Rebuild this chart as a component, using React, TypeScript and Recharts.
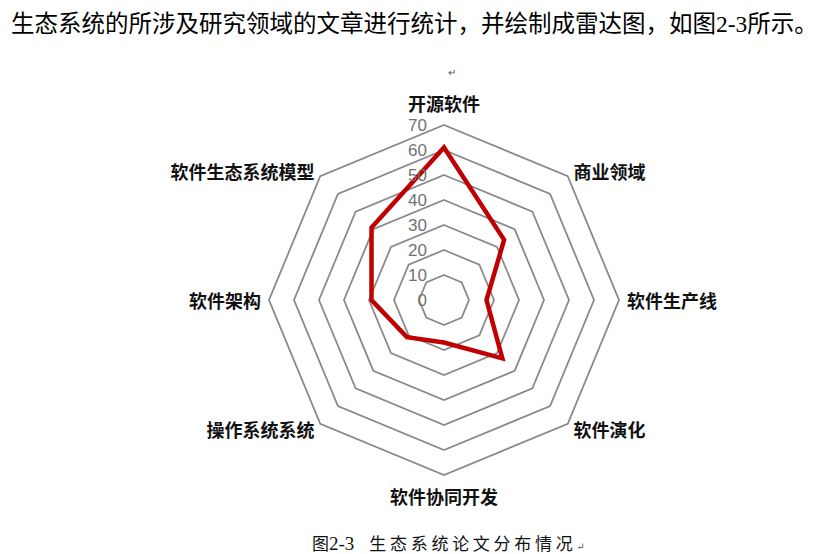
import React from "react";
import {
  RadarChart,
  Radar,
  PolarGrid,
  PolarAngleAxis,
  PolarRadiusAxis,
} from "recharts";

const CATEGORIES = [
  "开源软件",
  "商业领域",
  "软件生产线",
  "软件演化",
  "软件协同开发",
  "操作系统系统",
  "软件架构",
  "软件生态系统模型",
];
const COUNTS = [61, 34, 17, 33, 17, 21, 29, 41];
const RADIUS_TICKS = [0, 10, 20, 30, 40, 50, 60, 70];

const INTRO = "生态系统的所涉及研究领域的文章进行统计，并绘制成雷达图，如图2-3所示。";
const CAPTION_NUM = "2-3";
const CAPTION_TEXT = "生态系统论文分布情况";

const CX = 444;
const CY = 300;
const OUTER = 175;
const GRID_COLOR = "#8a8a8a";
const LINE_COLOR = "#c00000";
const CJK = '"Noto Sans CJK SC", "Noto Sans", sans-serif';
const SERIF = '"Liberation Serif", "Times New Roman", "DejaVu Serif", "Noto Sans CJK SC", serif';

function AngleTick(props: any) {
  const { payload } = props;
  const a = (payload.coordinate * Math.PI) / 180;
  const r = OUTER + 8;
  const cos = Math.cos(a);
  const sin = Math.sin(a);
  const x = CX + r * cos;
  let y = CY - r * sin;
  let anchor: "start" | "end" | "middle" = "middle";
  if (cos > 1e-5) anchor = "start";
  else if (cos < -1e-5) anchor = "end";
  if (Math.abs(cos) < 1e-5) y += sin > 0 ? -14 : 13;
  return (
    <text
      x={x}
      y={y}
      textAnchor={anchor}
      dominantBaseline="central"
      fontFamily={CJK}
      fontWeight={700}
      fontSize={18}
      fill="#111"
    >
      {payload.value}
    </text>
  );
}

function RadiusTick(props: any) {
  const { x, y, payload } = props;
  return (
    <text
      x={x - 17}
      y={y}
      textAnchor="end"
      dominantBaseline="central"
      fontFamily='"Liberation Sans", Arial, sans-serif'
      fontSize={17}
      fill="#727272"
    >
      {payload.value}
    </text>
  );
}

export default function App() {
  const data = CATEGORIES.map((name, i) => ({ name, value: COUNTS[i] }));
  const max = RADIUS_TICKS[RADIUS_TICKS.length - 1];
  const gridRadii = RADIUS_TICKS.filter((t) => t > 0).map((t) => (t / max) * OUTER);

  return (
    <div
      style={{
        position: "absolute",
        left: 0,
        top: 0,
        width: 825,
        height: 554,
        background: "#fff",
        overflow: "hidden",
      }}
    >
      <div
        style={{
          position: "absolute",
          left: 11,
          top: 9,
          fontSize: 23.5,
          lineHeight: "30px",
          whiteSpace: "nowrap",
          color: "#000",
          fontFamily: SERIF,
        }}
      >
        {INTRO}
      </div>
      <div
        style={{
          position: "absolute",
          left: 448,
          top: 64,
          fontSize: 10,
          color: "#555",
          fontFamily: CJK,
        }}
      >
        ↵
      </div>

      <div style={{ position: "absolute", left: 0, top: 0 }}>
        <RadarChart
          width={825}
          height={554}
          data={data}
          cx={CX}
          cy={CY}
          outerRadius={OUTER}
          margin={{ top: 0, right: 0, bottom: 0, left: 0 }}
        >
          <PolarGrid
            gridType="polygon"
            radialLines={false}
            polarRadius={gridRadii}
            stroke={GRID_COLOR}
            strokeWidth={1.8}
          />
          <PolarAngleAxis
            dataKey="name"
            axisLine={false}
            tickLine={false}
            tick={AngleTick}
          />
          <PolarRadiusAxis
            angle={90}
            domain={[0, max]}
            ticks={RADIUS_TICKS as any}
            tickCount={RADIUS_TICKS.length}
            axisLine={false}
            tickLine={false}
            tick={RadiusTick}
          />
          <Radar
            dataKey="value"
            stroke={LINE_COLOR}
            strokeWidth={4.5}
            strokeLinejoin="miter"
            fill="none"
            fillOpacity={0}
            dot={false}
            isAnimationActive={false}
          />
        </RadarChart>
      </div>

      <div
        style={{
          position: "absolute",
          left: 312,
          top: 533,
          lineHeight: "22px",
          whiteSpace: "pre",
          color: "#111",
          fontFamily: SERIF,
        }}
      >
        <span style={{ fontSize: 17 }}>图</span>
        <span style={{ fontSize: 19 }}>{CAPTION_NUM}</span>
        <span style={{ fontSize: 17, marginLeft: 15, letterSpacing: 3.7 }}>{CAPTION_TEXT}</span>
        <span style={{ fontSize: 10, color: "#555" }}>↵</span>
      </div>
    </div>
  );
}
